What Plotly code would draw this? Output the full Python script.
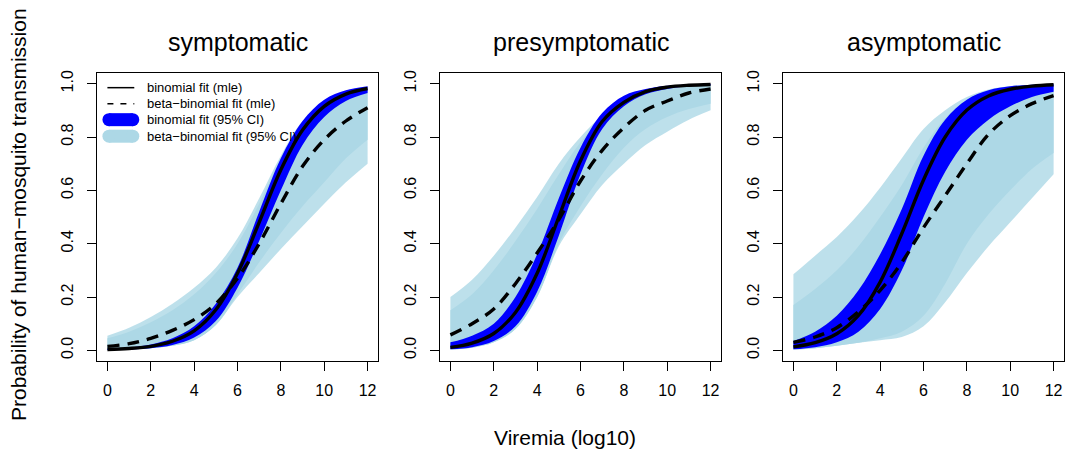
import plotly.graph_objects as go
from plotly.subplots import make_subplots

# viremia grid (log10) shared by every curve
viremia = [0, 1, 2, 3, 4, 5, 6, 7, 8, 9, 10, 11, 12]

panel_titles = ["symptomatic", "presymptomatic", "asymptomatic"]

# binomial fit (mle)
binom_mle = [
    [0.003, 0.007, 0.015, 0.034, 0.073, 0.152, 0.289, 0.48, 0.677, 0.826, 0.915, 0.961, 0.982],
    [0.011, 0.027, 0.063, 0.142, 0.289, 0.50, 0.711, 0.858, 0.930, 0.970, 0.987, 0.994, 0.997],
    [0.0128, 0.0285, 0.062, 0.131, 0.256, 0.438, 0.639, 0.80, 0.901, 0.954, 0.979, 0.991, 0.996],
]
# beta-binomial fit (mle)
betabin_mle = [
    [0.015, 0.025, 0.045, 0.075, 0.115, 0.175, 0.27, 0.40, 0.55, 0.69, 0.79, 0.86, 0.91],
    [0.058, 0.10, 0.155, 0.25, 0.365, 0.49, 0.635, 0.75, 0.835, 0.90, 0.935, 0.965, 0.98],
    [0.03, 0.05, 0.085, 0.145, 0.225, 0.33, 0.46, 0.58, 0.70, 0.81, 0.88, 0.925, 0.955],
]
# binomial fit 95% CI envelope
binom_lo = [
    [0.001, 0.003, 0.008, 0.02, 0.048, 0.11, 0.235, 0.41, 0.60, 0.77, 0.875, 0.935, 0.965],
    [0.004, 0.012, 0.035, 0.09, 0.22, 0.43, 0.66, 0.83, 0.915, 0.96, 0.98, 0.99, 0.994],
    [0.004, 0.012, 0.03, 0.07, 0.155, 0.30, 0.50, 0.67, 0.79, 0.865, 0.915, 0.95, 0.97],
]
binom_hi = [
    [0.006, 0.011, 0.022, 0.045, 0.09, 0.175, 0.31, 0.52, 0.72, 0.86, 0.94, 0.975, 0.99],
    [0.03, 0.055, 0.10, 0.20, 0.36, 0.57, 0.76, 0.89, 0.955, 0.98, 0.992, 0.997, 0.999],
    [0.035, 0.07, 0.13, 0.225, 0.36, 0.53, 0.73, 0.865, 0.94, 0.975, 0.99, 0.996, 0.998],
]
# beta-binomial fit 95% CI: outer (sparse) and dense envelopes
betabin_lo = [
    [0.002, 0.004, 0.008, 0.017, 0.038, 0.095, 0.20, 0.29, 0.38, 0.465, 0.55, 0.63, 0.70],
    [0.003, 0.01, 0.03, 0.08, 0.2, 0.39, 0.51, 0.62, 0.70, 0.77, 0.82, 0.865, 0.90],
    [0.003, 0.008, 0.017, 0.028, 0.038, 0.05, 0.09, 0.18, 0.29, 0.39, 0.48, 0.57, 0.66],
]
betabin_hi = [
    [0.055, 0.085, 0.125, 0.175, 0.235, 0.31, 0.42, 0.57, 0.73, 0.86, 0.93, 0.965, 0.98],
    [0.20, 0.265, 0.355, 0.46, 0.575, 0.70, 0.80, 0.88, 0.935, 0.965, 0.98, 0.99, 0.995],
    [0.285, 0.355, 0.425, 0.51, 0.61, 0.72, 0.83, 0.90, 0.95, 0.978, 0.99, 0.996, 0.998],
]
betabin_lo_dense = [
    [0.002, 0.004, 0.008, 0.017, 0.038, 0.095, 0.21, 0.33, 0.44, 0.54, 0.63, 0.72, 0.79],
    [0.003, 0.01, 0.03, 0.08, 0.2, 0.40, 0.54, 0.66, 0.76, 0.83, 0.875, 0.905, 0.925],
    [0.003, 0.008, 0.017, 0.028, 0.045, 0.07, 0.13, 0.25, 0.40, 0.51, 0.60, 0.68, 0.74],
]
betabin_hi_dense = [
    [0.045, 0.07, 0.105, 0.15, 0.21, 0.29, 0.40, 0.55, 0.72, 0.855, 0.93, 0.965, 0.98],
    [0.15, 0.21, 0.30, 0.41, 0.53, 0.66, 0.78, 0.87, 0.93, 0.965, 0.98, 0.99, 0.995],
    [0.17, 0.23, 0.30, 0.39, 0.50, 0.62, 0.76, 0.87, 0.94, 0.975, 0.99, 0.996, 0.998],
]

legend_labels = ["binomial fit (mle)", "beta\u2212binomial fit (mle)",
                 "binomial fit (95% CI)", "beta\u2212binomial fit (95% CI)"]

BLUE = "#0000FF"
LIGHT = "#ADD8E6"
FONT = "Liberation Sans, Arial, Helvetica, sans-serif"

# full-window figure; body margin is removed in post_script below
W, H = 1066, 451
L, T = 97, 73
R = W - 1064
B = H - 361
pw, ph = W - L - R, H - T - B
boxes = [(97, 378), (440, 721), (783, 1064)]


def px_x(p):
    return (p - L) / pw


def px_y(p):
    return (H - B - p) / ph


fig = make_subplots(rows=1, cols=3, horizontal_spacing=0.0)


def band(lo, hi, color, col):
    fig.add_trace(go.Scatter(x=viremia, y=lo, mode="lines", line=dict(color=color, width=0, shape="spline"),
                             showlegend=False, hoverinfo="skip"), row=1, col=col)
    fig.add_trace(go.Scatter(x=viremia, y=hi, mode="lines", fill="tonexty", fillcolor=color,
                             line=dict(color=color, width=0, shape="spline"),
                             showlegend=False, hoverinfo="skip"), row=1, col=col)


for i in range(3):
    c = i + 1
    band(betabin_lo[i], betabin_hi[i], "rgba(173,216,230,0.8)", c)
    band(betabin_lo_dense[i], betabin_hi_dense[i], LIGHT, c)
    band(binom_lo[i], binom_hi[i], BLUE, c)
    fig.add_trace(go.Scatter(x=viremia, y=binom_mle[i], mode="lines",
                             line=dict(color="black", width=3.4, shape="spline"),
                             showlegend=False), row=1, col=c)
    fig.add_trace(go.Scatter(x=viremia, y=betabin_mle[i], mode="lines",
                             line=dict(color="black", width=3.4, dash="12px,8px", shape="spline"),
                             showlegend=False), row=1, col=c)

# hand-drawn legend in the first panel (R style, no box)
leg_y = [0.985, 0.925, 0.865, 0.803]
fig.add_trace(go.Scatter(x=[0.0, 1.24], y=[leg_y[0]] * 2, mode="lines",
                         line=dict(color="black", width=1.5), showlegend=False), row=1, col=1)
fig.add_trace(go.Scatter(x=[0.0, 1.24], y=[leg_y[1]] * 2, mode="lines",
                         line=dict(color="black", width=1.5, dash="6px,7px"), showlegend=False), row=1, col=1)
for yy, col in [(leg_y[2], BLUE), (leg_y[3], LIGHT)]:
    fig.add_trace(go.Scatter(x=[0.07, 1.17], y=[yy] * 2, mode="lines+markers",
                             line=dict(color=col, width=13),
                             marker=dict(color=col, size=13, line=dict(width=0)),
                             showlegend=False), row=1, col=1)
for yy, lab in zip(leg_y, legend_labels):
    fig.add_annotation(x=1.75, y=yy, xref="x", yref="y", text=lab, showarrow=False,
                       xanchor="left", yanchor="middle", font=dict(size=13, color="black", family=FONT))

for i, (a, b) in enumerate(boxes):
    xa = "xaxis" if i == 0 else f"xaxis{i + 1}"
    ya = "yaxis" if i == 0 else f"yaxis{i + 1}"
    fig.layout[xa].update(domain=[px_x(a), px_x(b)], range=[-0.48, 12.48],
                          tickvals=[0, 2, 4, 6, 8, 10, 12], showgrid=False, zeroline=False,
                          showline=True, mirror=True, linecolor="black", linewidth=1,
                          ticks="outside", ticklen=9, tickcolor="black",
                          tickfont=dict(size=16, color="black", family=FONT), ticklabelstandoff=6)
    fig.layout[ya].update(domain=[0, 1], range=[-0.04, 1.04], tickvals=[0, 0.2, 0.4, 0.6, 0.8, 1.0],
                          tickformat=".1f", showgrid=False, zeroline=False,
                          showline=True, mirror=True, linecolor="black", linewidth=1,
                          ticks="outside", ticklen=9, tickcolor="black", tickangle=-90,
                          tickfont=dict(size=16, color="black", family=FONT), ticklabelstandoff=8)
    fig.add_annotation(x=px_x((a + b) / 2), y=px_y(42), xref="paper", yref="paper",
                       text=panel_titles[i], showarrow=False, xanchor="center", yanchor="middle",
                       font=dict(size=25, color="black", family=FONT))

fig.add_annotation(x=px_x(565), y=px_y(437), xref="paper", yref="paper",
                   text="Viremia (log10)", showarrow=False, xanchor="center", yanchor="middle",
                   font=dict(size=21, color="black", family=FONT))
fig.add_annotation(x=px_x(18), y=px_y(215), xref="paper", yref="paper",
                   text="Probability of human\u2212mosquito transmission", showarrow=False, textangle=-90,
                   xanchor="center", yanchor="middle", font=dict(size=21, color="black", family=FONT))

fig.update_layout(width=W, height=H, margin=dict(l=L, r=R, t=T, b=B), autosize=False,
                  plot_bgcolor="white", paper_bgcolor="white", showlegend=False)

fig.write_html("out.html", config={"displayModeBar": False}, post_script=(
    "document.body.style.margin='0';"
    "document.body.style.overflow='hidden';"
    "document.documentElement.style.overflow='hidden';"))
